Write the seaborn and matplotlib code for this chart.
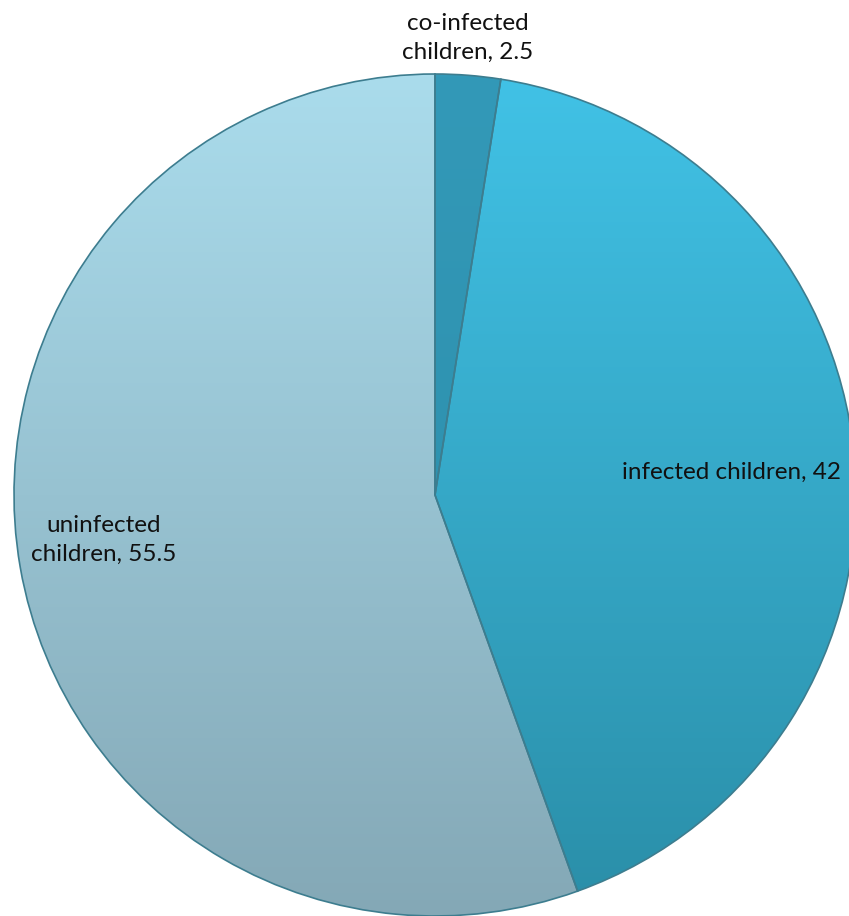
import numpy as np
import matplotlib
matplotlib.use("Agg")
import matplotlib.pyplot as plt
from matplotlib.colors import LinearSegmentedColormap
import seaborn as sns

sns.set_theme(style="white")
plt.rcParams['font.family'] = ['Lato', 'DejaVu Sans']

categories = ["co-infected\nchildren", "infected children", "uninfected\nchildren"]
values = [2.5, 42, 55.5]
value_labels = ["2.5", "42", "55.5"]
top_colors = ["#3399B8", "#41C2E6", "#AADCEC"]
bottom_colors = ["#2A8CA8", "#2A8EA8", "#84A8B6"]

W, H = 849, 916
fig = plt.figure(figsize=(W / 100, H / 100), dpi=100)
ax = fig.add_axes([0, 0, 1, 1])
cx, cy, r = 435, H - 495, 421

wedges, _ = ax.pie(values, center=(cx, cy), radius=r, startangle=90,
                   counterclock=False, colors=top_colors,
                   wedgeprops=dict(linewidth=1.2, edgecolor="#3d7d8f"))

grad = np.linspace(0, 1, 256).reshape(-1, 1)
for w, ct, cb in zip(wedges, top_colors, bottom_colors):
    cmap = LinearSegmentedColormap.from_list("g", [ct, cb])
    im = ax.imshow(grad, cmap=cmap, extent=(cx - r, cx + r, cy - r, cy + r),
                   origin="upper", aspect="auto", zorder=w.get_zorder() + 0.1)
    im.set_clip_path(w)
    w.set_facecolor("none")
    w.set_zorder(w.get_zorder() + 0.2)

label_pos = [(468, 38), (732, 472), (104, 540)]
for cat, val, (x, y) in zip(categories, value_labels, label_pos):
    ax.text(x, H - y, f"{cat}, {val}", ha="center", va="center",
            fontsize=17.5, color="#111111", linespacing=1.45, zorder=10)

ax.set_xlim(0, W)
ax.set_ylim(0, H)
ax.set_aspect("equal")
ax.axis("off")
fig.savefig("out.png", dpi=100)
